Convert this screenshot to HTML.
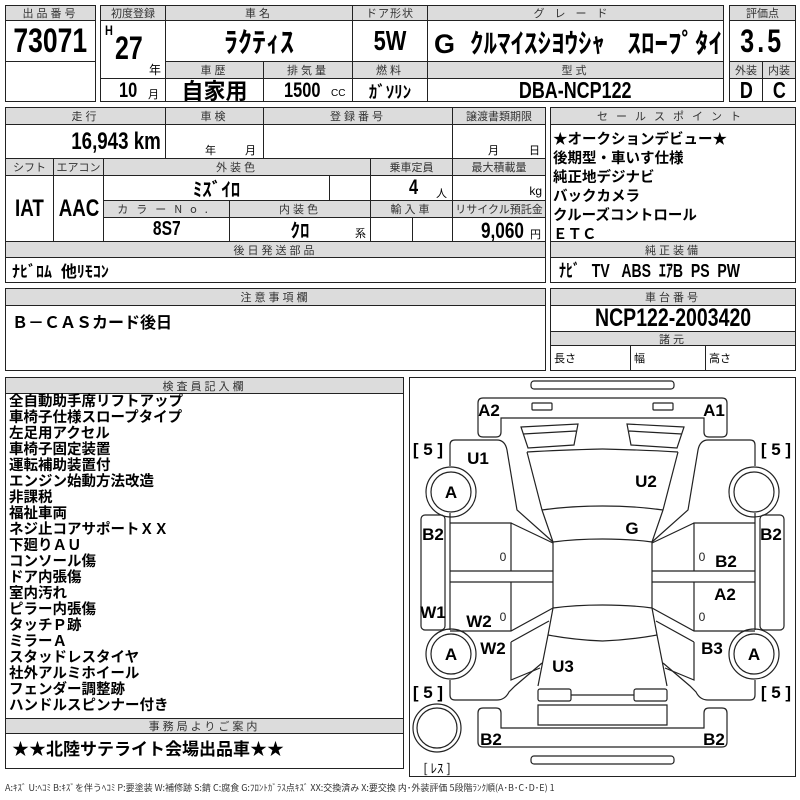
<!DOCTYPE html>
<html><head><meta charset="utf-8"><style>
*{margin:0;padding:0;box-sizing:border-box}
body{width:800px;height:800px;background:#fff;position:relative;overflow:hidden;font-family:"Liberation Sans","Noto Sans CJK JP",sans-serif;color:#000}
.c{position:absolute;border:1.3px solid #222;display:flex;align-items:center;justify-content:center;white-space:nowrap;overflow:hidden}
.h{background:#dcdcdc;font-size:11px;letter-spacing:3px;color:#333;font-family:"Noto Sans CJK JP",sans-serif}
.b{font-family:"Liberation Sans","Noto Sans CJK JP",sans-serif;font-weight:bold}
.n{display:inline-block;transform:scaleX(.78);transform-origin:center}
.nl{display:inline-block;transform:scaleX(.78);transform-origin:left center}
.nr{display:inline-block;transform:scaleX(.78);transform-origin:right center}
.t{position:absolute;white-space:nowrap}
.list{position:absolute;left:9px;top:393px;font-size:14.5px;font-weight:bold;line-height:16px;font-family:"Noto Sans CJK JP",sans-serif}
</style></head><body>
<!-- block 1 -->
<div class="c h" style="left:5px;top:5px;width:91px;height:16px">出品番号</div>
<div class="c b" style="left:5px;top:20px;width:91px;height:42px;font-size:34px"><span class="n">73071</span></div>
<div class="c" style="left:5px;top:61px;width:91px;height:41px"></div>
<!-- block 2 -->
<div class="c h" style="left:100px;top:5px;width:66px;height:16px;letter-spacing:0">初度登録</div>
<div class="c h" style="left:165px;top:5px;width:188px;height:16px">車名</div>
<div class="c h" style="left:352px;top:5px;width:76px;height:16px;letter-spacing:1px">ドア形状</div>
<div class="c h" style="left:427px;top:5px;width:297px;height:16px;letter-spacing:10px">グレード</div>
<div class="c" style="left:100px;top:20px;width:66px;height:59px"></div>
<div class="t b" style="left:105px;top:22px;font-size:14px"><span class="nl">H</span></div>
<div class="t b" style="left:115px;top:30px;font-size:32px"><span class="nl">27</span></div>
<div class="t" style="left:149px;top:61px;font-size:12px">年</div>
<div class="c b" style="left:165px;top:20px;width:188px;height:42px;font-size:28px">ﾗｸﾃｨｽ</div>
<div class="c b" style="left:352px;top:20px;width:76px;height:42px;font-size:28px"><span class="n">5W</span></div>
<div class="c b" style="left:427px;top:20px;width:297px;height:42px;font-size:27px;justify-content:flex-start;padding-left:6px">G&nbsp;&nbsp;ｸﾙﾏｲｽｼﾖｳｼｬ&nbsp;&nbsp;&nbsp;ｽﾛｰﾌﾟﾀｲ</div>
<div class="c h" style="left:165px;top:61px;width:99px;height:18px">車歴</div>
<div class="c h" style="left:263px;top:61px;width:90px;height:18px">排気量</div>
<div class="c h" style="left:352px;top:61px;width:76px;height:18px">燃料</div>
<div class="c h" style="left:427px;top:61px;width:297px;height:18px">型式</div>
<div class="c" style="left:100px;top:78px;width:66px;height:24px"></div>
<div class="t b" style="left:119px;top:79px;font-size:21px"><span class="nl">10</span></div>
<div class="t" style="left:148px;top:86px;font-size:11px">月</div>
<div class="c" style="left:165px;top:78px;width:99px;height:24px;font-size:22px;font-weight:bold;font-family:'Noto Sans CJK JP',sans-serif">自家用</div>
<div class="c" style="left:263px;top:78px;width:90px;height:24px"></div>
<div class="t b" style="left:284px;top:79px;font-size:21px"><span class="nl">1500</span></div>
<div class="t" style="left:331px;top:88px;font-size:10px">CC</div>
<div class="c b" style="left:352px;top:78px;width:76px;height:24px;font-size:17px">ｶﾞｿﾘﾝ</div>
<div class="c b" style="left:427px;top:78px;width:297px;height:24px;font-size:23px"><span class="n">DBA-NCP122</span></div>
<!-- block 3 -->
<div class="c h" style="left:729px;top:5px;width:67px;height:16px;letter-spacing:0">評価点</div>
<div class="c b" style="left:729px;top:20px;width:67px;height:42px;font-size:32px"><span class="n" style="letter-spacing:4px">3.5</span></div>
<div class="c h" style="left:729px;top:61px;width:34px;height:18px;letter-spacing:0">外装</div>
<div class="c h" style="left:762px;top:61px;width:34px;height:18px;letter-spacing:0">内装</div>
<div class="c b" style="left:729px;top:78px;width:34px;height:24px;font-size:23px"><span class="n">D</span></div>
<div class="c b" style="left:762px;top:78px;width:34px;height:24px;font-size:23px"><span class="n">C</span></div>
<!-- block 4 -->
<div class="c h" style="left:5px;top:107px;width:161px;height:18px">走行</div>
<div class="c h" style="left:165px;top:107px;width:99px;height:18px">車検</div>
<div class="c h" style="left:263px;top:107px;width:190px;height:18px">登録番号</div>
<div class="c h" style="left:452px;top:107px;width:94px;height:18px;letter-spacing:0">譲渡書類期限</div>
<div class="c b" style="left:5px;top:124px;width:161px;height:35px;justify-content:flex-end;padding-right:4px;font-size:24px"><span class="nr">16,943 km</span></div>
<div class="c" style="left:165px;top:124px;width:99px;height:35px"></div>
<div class="t" style="left:205px;top:142px;font-size:11px">年</div><div class="t" style="left:245px;top:142px;font-size:11px">月</div>
<div class="c" style="left:263px;top:124px;width:190px;height:35px"></div>
<div class="c" style="left:452px;top:124px;width:94px;height:35px"></div>
<div class="t" style="left:488px;top:142px;font-size:11px">月</div><div class="t" style="left:529px;top:142px;font-size:11px">日</div>
<div class="c h" style="left:5px;top:158px;width:49px;height:18px;letter-spacing:0">シフト</div>
<div class="c h" style="left:53px;top:158px;width:51px;height:18px;letter-spacing:0">エアコン</div>
<div class="c h" style="left:103px;top:158px;width:268px;height:18px">外装色</div>
<div class="c h" style="left:370px;top:158px;width:83px;height:18px;letter-spacing:0">乗車定員</div>
<div class="c h" style="left:452px;top:158px;width:94px;height:18px;letter-spacing:0">最大積載量</div>
<div class="c b" style="left:5px;top:175px;width:49px;height:67px;font-size:24px"><span class="n">IAT</span></div>
<div class="c b" style="left:53px;top:175px;width:51px;height:67px;font-size:24px"><span class="n">AAC</span></div>
<div class="c b" style="left:103px;top:175px;width:227px;height:26px;font-size:19px">ﾐｽﾞｲﾛ</div>
<div class="c" style="left:329px;top:175px;width:42px;height:26px"></div>
<div class="c" style="left:370px;top:175px;width:83px;height:26px"></div>
<div class="t b" style="left:409px;top:176px;font-size:21px"><span class="nl">4</span></div><div class="t" style="left:436px;top:185px;font-size:11px">人</div>
<div class="c" style="left:452px;top:175px;width:94px;height:26px;justify-content:flex-end;align-items:flex-end;padding:0 3px 2px 0;font-size:12px">kg</div>
<div class="c h" style="left:103px;top:200px;width:127px;height:18px;letter-spacing:8px">カラーNo.</div>
<div class="c h" style="left:229px;top:200px;width:142px;height:18px">内装色</div>
<div class="c h" style="left:370px;top:200px;width:83px;height:18px">輸入車</div>
<div class="c h" style="left:452px;top:200px;width:94px;height:18px;letter-spacing:0">リサイクル預託金</div>
<div class="c b" style="left:103px;top:217px;width:127px;height:25px;font-size:20px"><span class="n">8S7</span></div>
<div class="c b" style="left:229px;top:217px;width:142px;height:25px;font-size:19px">ｸﾛ</div>
<div class="t" style="left:355px;top:225px;font-size:11px">系</div>
<div class="c" style="left:370px;top:217px;width:43px;height:25px"></div>
<div class="c" style="left:412px;top:217px;width:41px;height:25px"></div>
<div class="c" style="left:452px;top:217px;width:94px;height:25px"></div>
<div class="t b" style="left:481px;top:218px;font-size:22px"><span class="nl">9,060</span></div><div class="t" style="left:530px;top:226px;font-size:11px">円</div>
<div class="c h" style="left:5px;top:241px;width:541px;height:17px">後日発送部品</div>
<div class="c b" style="left:5px;top:257px;width:541px;height:26px;justify-content:flex-start;padding-left:6px;font-size:16px">ﾅﾋﾞﾛﾑ&nbsp;&nbsp;他ﾘﾓｺﾝ</div>
<!-- sales -->
<div class="c h" style="left:550px;top:107px;width:246px;height:18px;letter-spacing:8px">セールスポイント</div>
<div class="c" style="left:550px;top:124px;width:246px;height:118px;align-items:flex-start;justify-content:flex-start;padding:4px 0 0 2px;font-size:14.5px;font-weight:bold;line-height:19px;font-family:'Noto Sans CJK JP',sans-serif;white-space:pre">★オークションデビュー★
後期型・車いす仕様
純正地デジナビ
バックカメラ
クルーズコントロール
ＥＴＣ</div>
<div class="c h" style="left:550px;top:241px;width:246px;height:17px">純正装備</div>
<div class="c b" style="left:550px;top:257px;width:246px;height:26px;justify-content:flex-start;padding-left:8px;font-size:18px"><span class="nl">ﾅﾋﾞ&nbsp;&nbsp;&nbsp;TV&nbsp;&nbsp;&nbsp;ABS&nbsp;&nbsp;ｴｱB&nbsp;&nbsp;PS&nbsp;&nbsp;PW</span></div>
<!-- notes -->
<div class="c h" style="left:5px;top:288px;width:541px;height:18px">注意事項欄</div>
<div class="c" style="left:5px;top:305px;width:541px;height:66px;align-items:flex-start;justify-content:flex-start;padding:3px 0 0 6px;font-size:16px;font-weight:bold;font-family:'Noto Sans CJK JP',sans-serif">Ｂ－ＣＡＳカード後日</div>
<div class="c h" style="left:550px;top:288px;width:246px;height:18px">車台番号</div>
<div class="c b" style="left:550px;top:305px;width:246px;height:27px;font-size:25px"><span class="n">NCP122-2003420</span></div>
<div class="c h" style="left:550px;top:331px;width:246px;height:15px">諸元</div>
<div class="c" style="left:550px;top:345px;width:81px;height:26px;justify-content:flex-start;padding-left:3px;font-size:11px">長さ</div>
<div class="c" style="left:630px;top:345px;width:76px;height:26px;justify-content:flex-start;padding-left:3px;font-size:11px">幅</div>
<div class="c" style="left:705px;top:345px;width:91px;height:26px;justify-content:flex-start;padding-left:3px;font-size:11px">高さ</div>
<!-- inspector -->
<div class="c h" style="left:5px;top:377px;width:399px;height:17px">検査員記入欄</div>
<div class="c" style="left:5px;top:393px;width:399px;height:326px"></div>
<div class="list">全自動助手席リフトアップ<br>車椅子仕様スロープタイプ<br>左足用アクセル<br>車椅子固定装置<br>運転補助装置付<br>エンジン始動方法改造<br>非課税<br>福祉車両<br>ネジ止コアサポートＸＸ<br>下廻りＡＵ<br>コンソール傷<br>ドア内張傷<br>室内汚れ<br>ピラー内張傷<br>タッチＰ跡<br>ミラーＡ<br>スタッドレスタイヤ<br>社外アルミホイール<br>フェンダー調整跡<br>ハンドルスピンナー付き</div>
<div class="c h" style="left:5px;top:718px;width:399px;height:16px">事務局よりご案内</div>
<div class="c" style="left:5px;top:733px;width:399px;height:36px;align-items:flex-start;justify-content:flex-start;padding:1px 0 0 6px;font-size:17px;font-weight:bold;font-family:'Noto Sans CJK JP',sans-serif">★★北陸サテライト会場出品車★★</div>
<!-- diagram -->
<div class="c" style="left:409px;top:377px;width:387px;height:400px"></div>
<svg style="position:absolute;left:0;top:0" width="800" height="800" viewBox="0 0 800 800">
<g fill="none" stroke="#222" stroke-width="1.2">
<rect x="531" y="381" width="143" height="8" rx="3"/>
<rect x="531" y="756" width="143" height="8" rx="3"/>
<g id="half">
<path d="M602.5 398 H483 Q478 398 478 403 V432 Q478 437 483 437 H496 Q501 437 501 432 V418 H602.5"/>
<rect x="532" y="403" width="20" height="7" rx="1"/>
<path d="M521 427 L578 424 L574 445 L528 448 Z M523 434 L576 431"/>
<path d="M527 452 Q560 450 602.5 449 M527 452 L542 510 M542 510 Q570 506 602.5 506 M542 510 L553 542 Q575 539 602.5 539"/>
<path d="M553 542 V608 Q575 605 602.5 605 M553 608 L548 635 Q575 640 602.5 641 M548 635 L538 686"/>
<rect x="538" y="689" width="33" height="12" rx="2"/>
<path d="M571 695 H602.5"/>
<path d="M602.5 705 H538 V725 H602.5"/>
<path d="M602.5 747 H483 Q478 747 478 742 V713 Q478 708 483 708 H496 Q501 708 501 713 V728 H602.5"/>
<path d="M450 466 V445 Q450 440 455 440 H497 Q505 440 507 450 L517 510 L553 542"/>
<path d="M450 513 V630 M450 680 V695 Q450 700 455 700 H497 Q505 700 509 692 L515 686 L542 663"/>
<path d="M450 523 H511 V571 M511 523 L553 543 M450 571 H553 M450 582 H553 M511 582 V631 M450 631 H511 L553 608"/>
<path d="M511 642 L549 621 M511 642 V680 L540 668"/>
<rect x="421" y="515" width="24" height="115" rx="4"/>
<circle cx="451" cy="492" r="25"/><circle cx="451" cy="492" r="20"/>
<circle cx="451" cy="654" r="25"/><circle cx="451" cy="654" r="20"/>
</g>
<use href="#half" transform="translate(1205,0) scale(-1,1)"/>
<circle cx="437" cy="728" r="24"/><circle cx="437" cy="728" r="20"/>
</g>
<g font-family="Liberation Sans, sans-serif" font-weight="bold" font-size="17" fill="#000" text-anchor="middle">
<text x="489" y="416">A2</text><text x="714" y="416">A1</text>
<text x="478" y="464">U1</text><text x="646" y="487">U2</text>
<text x="451" y="498">A</text><text x="451" y="660">A</text><text x="754" y="660">A</text>
<text x="433" y="540">B2</text><text x="771" y="540">B2</text>
<text x="632" y="534">G</text><text x="726" y="567">B2</text><text x="725" y="600">A2</text>
<text x="433" y="618">W1</text><text x="479" y="627">W2</text><text x="493" y="654">W2</text>
<text x="712" y="654">B3</text><text x="563" y="672">U3</text>
<text x="491" y="745">B2</text><text x="714" y="745">B2</text>
<text x="428" y="455">[ 5 ]</text><text x="776" y="455">[ 5 ]</text>
<text x="428" y="698">[ 5 ]</text><text x="776" y="698">[ 5 ]</text>
</g>
<g font-family="Liberation Sans, sans-serif" font-size="12" fill="#222" text-anchor="middle">
<text x="503" y="561">0</text><text x="702" y="561">0</text><text x="503" y="621">0</text><text x="702" y="621">0</text>
</g>
<text x="437" y="773" font-family="Noto Sans CJK JP, sans-serif" font-size="13" text-anchor="middle">[ ﾚｽ ]</text>
</svg>
<div class="t" style="left:5px;top:781px;font-size:9px;color:#333;font-family:'Noto Sans CJK JP',sans-serif">A:ｷｽﾞ U:ﾍｺﾐ B:ｷｽﾞを伴うﾍｺﾐ P:要塗装 W:補修跡 S:錆 C:腐食 G:ﾌﾛﾝﾄｶﾞﾗｽ点ｷｽﾞ XX:交換済み X:要交換 内･外装評価 5段階ﾗﾝｸ順(A･B･C･D･E) 1</div>
</body></html>
